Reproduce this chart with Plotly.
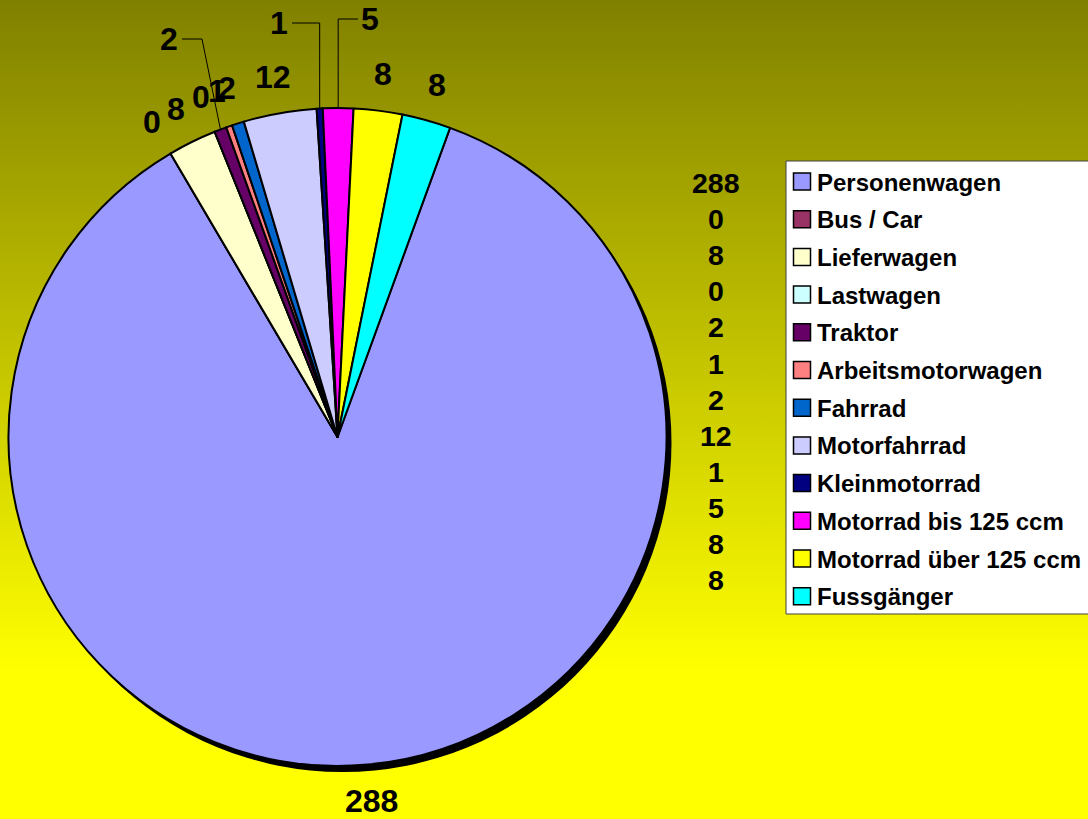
import base64
import math
import plotly.graph_objects as go

# Unfälle nach Verkehrsteilnehmer
categories = [
    "Personenwagen", "Bus / Car", "Lieferwagen", "Lastwagen", "Traktor",
    "Arbeitsmotorwagen", "Fahrrad", "Motorfahrrad", "Kleinmotorrad",
    "Motorrad bis 125 ccm", "Motorrad über 125 ccm", "Fussgänger",
]
counts = [288, 0, 8, 0, 2, 1, 2, 12, 1, 5, 8, 8]
slice_colors = [
    "#9999FF", "#993366", "#FFFFCC", "#CCFFFF", "#660066", "#FF8080",
    "#0066CC", "#CCCCFF", "#000080", "#FF00FF", "#FFFF00", "#00FFFF",
]

W, H = 1088, 819
FONT = "Arial, 'Liberation Sans', sans-serif"


def px(x):
    return x / W


def py(y):
    return 1 - y / H


# vertical olive -> yellow background
svg = (
    '<svg xmlns="http://www.w3.org/2000/svg" width="1088" height="819" '
    'preserveAspectRatio="none"><defs><linearGradient id="g" x1="0" y1="0" '
    'x2="0" y2="1"><stop offset="0" stop-color="#808000"/>'
    '<stop offset="0.82" stop-color="#ffff00"/>'
    '<stop offset="1" stop-color="#ffff00"/></linearGradient></defs>'
    '<rect width="1088" height="819" fill="url(#g)"/></svg>'
)
bg_src = "data:image/svg+xml;base64," + base64.b64encode(svg.encode()).decode()

# pie geometry (pixels)
cx, cy, r = 337.5, 437, 329
rotation = 20
sh_dx, sh_dy = 5, 6
label_gap = 37

# labels that were dragged away from their slice, with elbow leader lines
callouts = {
    "Traktor": dict(x=168.5, y=39, elbow_x=202, end_x=182),
    "Kleinmotorrad": dict(x=279, y=23, elbow_x=None, end_x=292),
    "Motorrad bis 125 ccm": dict(x=370, y=19, elbow_x=None, end_x=358),
}

fig = go.Figure()

# drop shadow behind the pie
fig.add_trace(go.Pie(
    values=[1], labels=["shadow"], marker=dict(colors=["black"], line=dict(width=0)),
    textinfo="none", hoverinfo="skip", showlegend=False, sort=False,
    automargin=False,
    domain=dict(x=[px(cx - r + sh_dx), px(cx + r + sh_dx)],
                y=[py(cy + r + sh_dy), py(cy - r + sh_dy)]),
))

fig.add_trace(go.Pie(
    values=counts, labels=categories,
    marker=dict(colors=slice_colors, line=dict(color="black", width=2)),
    sort=False, direction="clockwise", rotation=rotation,
    textinfo="none", hoverinfo="label+value", showlegend=False, automargin=False,
    domain=dict(x=[px(cx - r), px(cx + r)], y=[py(cy + r), py(cy - r)]),
))

shapes = []
annotations = []

# value labels around the pie, placed at each slice's mid angle
total = sum(counts)
cum = 0
for name, v in zip(categories, counts):
    theta = math.radians(rotation + (cum + v / 2) / total * 360)
    cum += v
    ex, ey = cx + r * math.sin(theta), cy - r * math.cos(theta)
    if name in callouts:
        c = callouts[name]
        lx, ly = c["x"], c["y"]
        elbow_x = ex if c["elbow_x"] is None else c["elbow_x"]
        path = (f"M {px(ex)} {py(ey)} L {px(elbow_x)} {py(ly)} "
                f"L {px(c['end_x'])} {py(ly)}")
        shapes.append(dict(type="path", xref="paper", yref="paper", path=path,
                           line=dict(color="black", width=1)))
    else:
        rl = r + label_gap
        lx, ly = cx + rl * math.sin(theta), cy - rl * math.cos(theta)
    annotations.append(dict(x=px(lx), y=py(ly), xref="paper", yref="paper",
                            xanchor="center", yanchor="middle", showarrow=False,
                            text=str(v),
                            font=dict(family=FONT, size=32, color="black", weight="bold")))

# legend frame
shapes.append(dict(type="rect", xref="paper", yref="paper",
                   x0=px(786), x1=px(1100), y0=py(614), y1=py(161),
                   fillcolor="white", line=dict(color="#404040", width=1)))

leg_top, leg_step = 182, 37.7
val_top, val_step = 183, 36.1
for i, (name, col, v) in enumerate(zip(categories, slice_colors, counts)):
    yc = leg_top + i * leg_step
    shapes.append(dict(type="rect", xref="paper", yref="paper",
                       x0=px(793.5), x1=px(810.5), y0=py(yc + 8), y1=py(yc - 9),
                       fillcolor=col, line=dict(color="black", width=1.5)))
    annotations.append(dict(x=px(815), y=py(yc), xref="paper", yref="paper",
                            xanchor="left", yanchor="middle", showarrow=False,
                            text=name,
                            font=dict(family=FONT, size=24, color="black", weight="bold")))
    annotations.append(dict(x=px(716), y=py(val_top + i * val_step),
                            xref="paper", yref="paper",
                            xanchor="center", yanchor="middle", showarrow=False,
                            text=str(v),
                            font=dict(family=FONT, size=28.5, color="black", weight="bold")))

fig.update_layout(
    width=W, height=H,
    margin=dict(l=0, r=0, t=0, b=0, pad=0, autoexpand=False),
    paper_bgcolor="#ffff00",
    images=[dict(source=bg_src, xref="paper", yref="paper", x=0, y=1,
                 sizex=1, sizey=1, sizing="stretch", xanchor="left",
                 yanchor="top", layer="below")],
    shapes=shapes,
    annotations=annotations,
    font=dict(family=FONT),
)

fig.write_html("out.html")
